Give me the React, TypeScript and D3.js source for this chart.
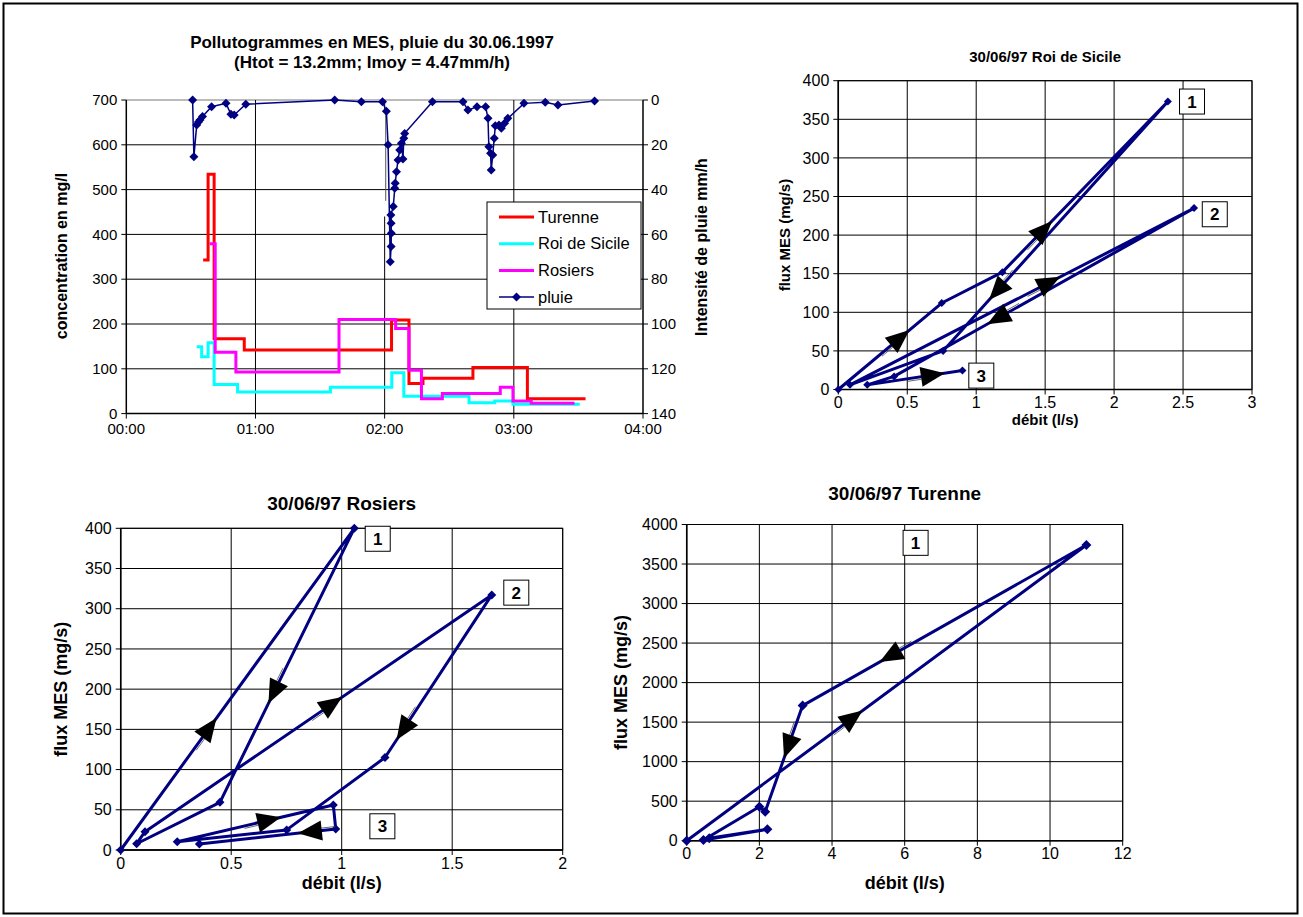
import React from 'react';
import * as d3 from 'd3';

const FONT = 'Liberation Sans, Arial, sans-serif';
const NAVY = '#000080';

// ---------- Panel 1 : pollutogrammes ----------
const hourTickMinutes = [0, 60, 120, 180, 240];
const hourTickLabels = ['00:00', '01:00', '02:00', '03:00', '04:00'];
const concTicks = [0, 100, 200, 300, 400, 500, 600, 700];
const rainTicks = [0, 20, 40, 60, 80, 100, 120, 140];

const turenneTime = [35.7, 38.0, 40.8, 54.8, 123.2, 131.3, 137.8, 161.0, 186.3, 213.3];
const turenneConc = [343, 534, 167, 142, 209, 67, 79, 103, 33, 33];

const roiTime = [32.7, 35.0, 38.0, 40.8, 51.7, 94.8, 123.3, 128.9, 159.2, 171.1, 179.6, 210.6];
const roiConc = [149, 127, 158, 65, 48, 59, 91, 39, 24, 28, 21, 21];

const rosiersTime = [38.8, 41.3, 50.9, 98.8, 125.1, 131.3, 137.1, 146.8, 173.7, 179.6, 188.1, 208.2];
const rosiersConc = [379, 137, 93, 210, 190, 97, 33, 45, 59, 28, 23, 23];

const rainTime = [30.8, 31.4, 32.7, 33.5, 34.2, 35.4, 39.6, 46.3, 48.6, 50.1, 55.5, 96.8, 109.2, 119.0, 120.8, 121.6,
  122.6, 123.0, 123.1, 123.0, 122.9, 124.0, 124.7, 124.9, 125.5, 126.2, 127.0, 127.8, 128.5, 128.9, 129.3,
  142.2, 156.4, 158.7, 162.9, 166.9, 168.0, 168.4, 169.2, 169.5, 170.2, 170.9, 171.4, 173.1, 174.2, 175.7, 177.2,
  184.7, 194.6, 200.5, 217.5];
const rainIntensity = [0, 25.3, 11.2, 9.8, 8.9, 7.4, 3.0, 1.5, 6.4, 6.7, 1.9, 0, 0.8, 0.8, 5.0, 20.0,
  72.2, 65.4, 59.5, 55.0, 51.3, 47.6, 39.4, 37.2, 32.0, 26.8, 22.3, 19.3, 26.3, 17.1, 14.9,
  0.8, 0.8, 4.5, 3.0, 3.0, 8.2, 20.9, 23.8, 31.3, 24.6, 17.1, 11.5, 11.2, 12.6, 10.4, 8.2,
  1.5, 1.0, 2.2, 0.4];

// ---------- Panel 2 : Roi de Sicile ----------
const roiDebit = [0, 0.75, 1.19, 2.39, 0.76, 0.085, 2.58, 0.405, 0.21, 0.9];
const roiFlux = [0, 112, 152, 373, 50, 6, 235, 17, 6, 24.5];
const roiXTicks = [0, 0.5, 1, 1.5, 2, 2.5, 3];
const roiYTicks = [0, 50, 100, 150, 200, 250, 300, 350, 400];
const roiArrowSeg = [0, 2, 3, 5, 6, 8];
const roiArrowPos = [0.6, 0.25, 0.76, 0.58, 0.655, 0.69];
const roiLabelText = ['1', '2', '3'];
const roiLabelX = [2.565, 2.73, 1.037];
const roiLabelY = [373, 227, 18];

// ---------- Panel 3 : Rosiers ----------
const rosDebit = [0, 1.057, 0.449, 0.072, 0.11, 1.679, 1.196, 0.751, 0.256, 0.962, 0.973, 0.356];
const rosFlux = [0, 400, 59.3, 7.8, 22.8, 317.2, 115, 25, 10.3, 56, 26.1, 7.5];
const rosXTicks = [0, 0.5, 1, 1.5, 2];
const rosYTicks = [0, 50, 100, 150, 200, 250, 300, 350, 400];
const rosArrowSeg = [0, 1, 4, 5, 8, 10];
const rosArrowPos = [0.38, 0.6, 0.54, 0.83, 0.59, 0.19];
const rosLabelText = ['1', '2', '3'];
const rosLabelX = [1.163, 1.79, 1.184];
const rosLabelY = [387, 320, 29.5];

// ---------- Panel 4 : Turenne ----------
const turDebit = [0, 11.0, 3.19, 2.16, 2.0, 0.46, 2.22, 0.62];
const turFlux = [0, 3740, 1709, 367, 430, 9, 144, 30];
const turXTicks = [0, 2, 4, 6, 8, 10, 12];
const turYTicks = [0, 500, 1000, 1500, 2000, 2500, 3000, 3500, 4000];
const turArrowSeg = [0, 1, 2];
const turArrowPos = [0.416, 0.692, 0.39];
const turLabelText = ['1'];
const turLabelX = [6.3];
const turLabelY = [3768];

function diamond(x: number, y: number, r: number) {
  return `M${x},${y - r}L${x + r},${y}L${x},${y + r}L${x - r},${y}Z`;
}

function arrowHead(px: number, py: number, ang: number, len = 24, half = 10) {
  const dx = Math.cos(ang), dy = Math.sin(ang);
  const tx = px + dx * len / 2, ty = py + dy * len / 2;
  const bx = px - dx * len / 2, by = py - dy * len / 2;
  const nx = -dy, ny = dx;
  return `M${tx},${ty}L${bx + nx * half},${by + ny * half}L${bx - nx * half},${by - ny * half}Z`;
}

type ScatterProps = {
  x0: number; x1: number; y0: number; y1: number;
  xDomain: [number, number]; yDomain: [number, number];
  xTicks: number[]; yTicks: number[];
  debit: number[]; flux: number[];
  arrowSeg: number[]; arrowPos: number[];
  labelText: string[]; labelX: number[]; labelY: number[];
  title: string; titleY: number; yTitleX: number; xTitleY: number;
  titleSize: number; axisTitleSize: number; tickSize: number; markerR: number;
};

function Scatter(p: ScatterProps) {
  const xs = d3.scaleLinear().domain(p.xDomain).range([p.x0, p.x1]);
  const ys = d3.scaleLinear().domain(p.yDomain).range([p.y0, p.y1]);
  const pts = p.debit.map((d, i) => [xs(d), ys(p.flux[i])] as [number, number]);
  const line = d3.line()(pts) || '';
  const cx = (p.x0 + p.x1) / 2;
  const cy = (p.y0 + p.y1) / 2;
  return (
    <g>
      {p.yTicks.map((t) => (
        <line key={'gy' + t} x1={p.x0} x2={p.x1} y1={ys(t)} y2={ys(t)} stroke="#000" strokeWidth={1} />
      ))}
      {p.xTicks.map((t) => (
        <line key={'gx' + t} x1={xs(t)} x2={xs(t)} y1={p.y0} y2={p.y1} stroke="#000" strokeWidth={1} />
      ))}
      <rect x={p.x0} y={p.y1} width={p.x1 - p.x0} height={p.y0 - p.y1} fill="none" stroke="#000" strokeWidth={1} />
      <line x1={p.x0} x2={p.x0} y1={p.y0} y2={p.y1} stroke="#000" strokeWidth={1.5} />
      <line x1={p.x0} x2={p.x1} y1={p.y0} y2={p.y0} stroke="#000" strokeWidth={1.5} />
      {p.yTicks.map((t) => (
        <g key={'ty' + t}>
          <line x1={p.x0 - 5} x2={p.x0} y1={ys(t)} y2={ys(t)} stroke="#000" />
          <text x={p.x0 - 9} y={ys(t)} dy="0.35em" textAnchor="end" fontSize={p.tickSize} fontFamily={FONT}>{t}</text>
        </g>
      ))}
      {p.xTicks.map((t) => (
        <g key={'tx' + t}>
          <line x1={xs(t)} x2={xs(t)} y1={p.y0} y2={p.y0 + 5} stroke="#000" />
          <text x={xs(t)} y={p.y0 + 13} dy="0.35em" textAnchor="middle" fontSize={p.tickSize} fontFamily={FONT}>{t}</text>
        </g>
      ))}
      <path d={line} fill="none" stroke={NAVY} strokeWidth={3} strokeLinejoin="round" />
      {pts.map((q, i) => (
        <path key={'m' + i} d={diamond(q[0], q[1], p.markerR)} fill={NAVY} />
      ))}
      {p.arrowSeg.map((s, i) => {
        const a = pts[s], b = pts[s + 1];
        const t = p.arrowPos[i];
        const px = a[0] + (b[0] - a[0]) * t, py = a[1] + (b[1] - a[1]) * t;
        const ang = Math.atan2(b[1] - a[1], b[0] - a[0]);
        const dx = Math.cos(ang), dy = Math.sin(ang);
        const bx = px - dx * 12, by = py - dy * 12;
        return (
          <g key={'a' + i}>
            <line x1={bx - dx * 14 - dy * 2.5} y1={by - dy * 14 + dx * 2.5} x2={bx - dy * 2.5} y2={by + dx * 2.5} stroke="#444" strokeWidth={0.8} />
            <path d={arrowHead(px, py, ang)} fill="#000" />
          </g>
        );
      })}
      {p.labelText.map((l, i) => (
        <g key={'l' + i}>
          <rect x={xs(p.labelX[i]) - 12.5} y={ys(p.labelY[i]) - 12.5} width={25} height={25} fill="#fff" stroke="#000" strokeWidth={1} />
          <text x={xs(p.labelX[i])} y={ys(p.labelY[i])} dy="0.36em" textAnchor="middle" fontSize={17} fontWeight="bold" fontFamily={FONT}>{l}</text>
        </g>
      ))}
      <text x={cx} y={p.titleY} textAnchor="middle" fontSize={p.titleSize} fontWeight="bold" fontFamily={FONT}>{p.title}</text>
      <text x={cx} y={p.xTitleY} textAnchor="middle" fontSize={p.axisTitleSize} fontWeight="bold" fontFamily={FONT}>débit (l/s)</text>
      <text transform={`translate(${p.yTitleX},${cy}) rotate(-90)`} textAnchor="middle" fontSize={p.axisTitleSize} fontWeight="bold" fontFamily={FONT}>flux MES (mg/s)</text>
    </g>
  );
}

function Pollutogram() {
  const X0 = 126.3, X1 = 643, Y0 = 413.6, Y1 = 100;
  const xs = d3.scaleLinear().domain([0, 240]).range([X0, X1]);
  const yc = d3.scaleLinear().domain([0, 700]).range([Y0, Y1]);
  const yr = d3.scaleLinear().domain([0, 140]).range([Y1, Y0]);
  const step = d3.line<[number, number]>().curve(d3.curveStepAfter).x((d) => xs(d[0])).y((d) => yc(d[1]));
  const series = [
    { name: 'Turenne', color: '#FF0000', t: turenneTime, v: turenneConc },
    { name: 'Roi de Sicile', color: '#00FFFF', t: roiTime, v: roiConc },
    { name: 'Rosiers', color: '#FF00FF', t: rosiersTime, v: rosiersConc },
  ];
  const rainPts = rainTime.map((t, i) => [xs(t), yr(rainIntensity[i])] as [number, number]);
  const rainLine = d3.line()(rainPts) || '';
  return (
    <g>
      {concTicks.filter((t) => t > 0).map((t) => (
        <line key={'g' + t} x1={X0} x2={X1} y1={yc(t)} y2={yc(t)} stroke={t === 700 ? '#777' : '#000'} strokeWidth={1} />
      ))}
      <line x1={xs(60)} x2={xs(60)} y1={Y1} y2={Y0} stroke="#000" />
      <line x1={xs(180)} x2={xs(180)} y1={Y1} y2={Y0} stroke="#000" />
      <line x1={xs(120)} x2={xs(120)} y1={yc(440)} y2={Y0} stroke="#000" />
      <line x1={xs(120)} x2={xs(120)} y1={Y1} y2={yc(680)} stroke="#000" />
      <line x1={xs(120.5)} x2={xs(120.5)} y1={yr(5)} y2={yr(45)} stroke="#555" />
      {series.map((s) => {
        const d = s.t.map((t, i) => [t, s.v[i]] as [number, number]);
        return <path key={s.name} d={step(d) || ''} fill="none" stroke={s.color} strokeWidth={3} />;
      })}
      <path d={rainLine} fill="none" stroke={NAVY} strokeWidth={1.5} />
      {rainPts.map((q, i) => (
        <path key={'r' + i} d={diamond(q[0], q[1], 4.5)} fill={NAVY} />
      ))}
      <line x1={X0} x2={X0} y1={Y1} y2={Y0} stroke="#000" strokeWidth={1.5} />
      <line x1={X1} x2={X1} y1={Y1} y2={Y0} stroke="#000" strokeWidth={1.5} />
      <line x1={X0} x2={X1} y1={Y0} y2={Y0} stroke="#000" strokeWidth={1.5} />
      {concTicks.map((t) => (
        <g key={'cl' + t}>
          <line x1={X0 - 5} x2={X0} y1={yc(t)} y2={yc(t)} stroke="#000" />
          <text x={X0 - 9} y={yc(t)} dy="0.35em" textAnchor="end" fontSize={15} fontFamily={FONT}>{t}</text>
        </g>
      ))}
      {rainTicks.map((t) => (
        <g key={'rl' + t}>
          <line x1={X1} x2={X1 + 5} y1={yr(t)} y2={yr(t)} stroke="#000" />
          <text x={X1 + 8} y={yr(t)} dy="0.35em" textAnchor="start" fontSize={15} fontFamily={FONT}>{t}</text>
        </g>
      ))}
      {hourTickMinutes.map((m, i) => (
        <g key={'h' + m}>
          <line x1={xs(m)} x2={xs(m)} y1={Y0} y2={Y0 + 5} stroke="#000" />
          <text x={xs(m)} y={Y0 + 15} dy="0.35em" textAnchor="middle" fontSize={15} fontFamily={FONT}>{hourTickLabels[i]}</text>
        </g>
      ))}
      <text x={372} y={48} textAnchor="middle" fontSize={17} fontWeight="bold" fontFamily={FONT}>Pollutogrammes en MES, pluie du 30.06.1997</text>
      <text x={372} y={68} textAnchor="middle" fontSize={17} fontWeight="bold" fontFamily={FONT}>(Htot = 13.2mm; Imoy = 4.47mm/h)</text>
      <text transform={`translate(67,256) rotate(-90)`} textAnchor="middle" fontSize={16} fontWeight="bold" fontFamily={FONT}>concentration en mg/l</text>
      <text transform={`translate(707,247) rotate(-90)`} textAnchor="middle" fontSize={16} fontWeight="bold" fontFamily={FONT}>Intensité de pluie  mm/h</text>
      <g>
        <rect x={487} y={202} width={154} height={107} fill="#fff" stroke="#000" />
        {series.map((s, i) => (
          <g key={'lg' + s.name}>
            <line x1={499} x2={534} y1={217 + i * 26.7} y2={217 + i * 26.7} stroke={s.color} strokeWidth={3} />
            <text x={538} y={217 + i * 26.7} dy="0.35em" fontSize={16.5} fontFamily={FONT}>{s.name}</text>
          </g>
        ))}
        <line x1={499} x2={534} y1={297} y2={297} stroke={NAVY} strokeWidth={1.5} />
        <path d={diamond(516.5, 297, 4.5)} fill={NAVY} />
        <text x={538} y={297} dy="0.35em" fontSize={16.5} fontFamily={FONT}>pluie</text>
      </g>
    </g>
  );
}

export default function App() {
  return (
    <svg width={1303} height={917} style={{ position: 'absolute', left: 0, top: 0, background: '#fff' }}>
      <rect x={0} y={0} width={1303} height={917} fill="#fff" />
      <rect x={3.5} y={3.5} width={1294} height={910} fill="none" stroke="#000" strokeWidth={2} />
      <Pollutogram />
      <Scatter x0={838.3} x1={1252} y0={389.5} y1={80.7} xDomain={[0, 3]} yDomain={[0, 400]}
        xTicks={roiXTicks} yTicks={roiYTicks} debit={roiDebit} flux={roiFlux}
        arrowSeg={roiArrowSeg} arrowPos={roiArrowPos} labelText={roiLabelText} labelX={roiLabelX} labelY={roiLabelY}
        title="30/06/97 Roi de Sicile" titleY={62} yTitleX={790} xTitleY={425} titleSize={15} axisTitleSize={15} tickSize={16} markerR={4} />
      <Scatter x0={120.7} x1={562.7} y0={850} y1={528.3} xDomain={[0, 2]} yDomain={[0, 400]}
        xTicks={rosXTicks} yTicks={rosYTicks} debit={rosDebit} flux={rosFlux}
        arrowSeg={rosArrowSeg} arrowPos={rosArrowPos} labelText={rosLabelText} labelX={rosLabelX} labelY={rosLabelY}
        title="30/06/97 Rosiers" titleY={510} yTitleX={67} xTitleY={889} titleSize={19} axisTitleSize={18} tickSize={16} markerR={4.5} />
      <Scatter x0={686.7} x1={1122.7} y0={840.7} y1={524.5} xDomain={[0, 12]} yDomain={[0, 4000]}
        xTicks={turXTicks} yTicks={turYTicks} debit={turDebit} flux={turFlux}
        arrowSeg={turArrowSeg} arrowPos={turArrowPos} labelText={turLabelText} labelX={turLabelX} labelY={turLabelY}
        title="30/06/97 Turenne" titleY={500} yTitleX={627} xTitleY={889} titleSize={19} axisTitleSize={18} tickSize={16} markerR={5} />
    </svg>
  );
}
